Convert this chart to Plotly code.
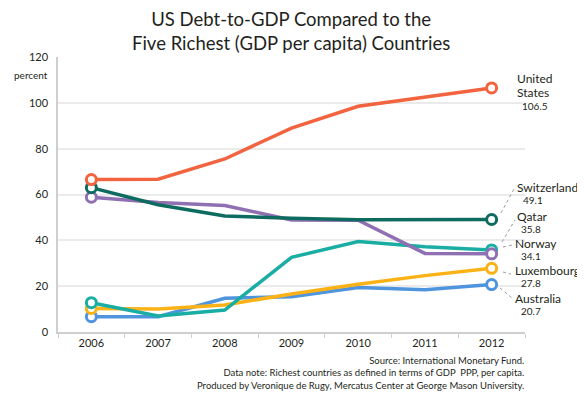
import plotly.graph_objects as go

years = ["2006", "2007", "2008", "2009", "2010", "2011", "2012"]
us = [66.5, 66.7, 75.5, 89.0, 98.5, 102.5, 106.5]
switzerland = [63.0, 55.5, 50.6, 49.6, 49.0, 49.1, 49.1]
norway = [58.8, 56.5, 55.2, 48.9, 48.8, 34.3, 34.1]
qatar = [12.8, 7.0, 9.6, 32.6, 39.5, 37.2, 35.8]
luxembourg = [10.3, 10.0, 11.8, 16.6, 20.8, 24.6, 27.8]
australia = [6.7, 6.7, 14.7, 15.4, 19.4, 18.4, 20.7]

series = [
    ("Australia", australia, "#4f95dd"),
    ("Luxembourg", luxembourg, "#fbb217"),
    ("Qatar", qatar, "#19ada4"),
    ("Norway", norway, "#8f70b3"),
    ("Switzerland", switzerland, "#0e6b5f"),
    ("United States", us, "#f2633f"),
]

FONT = "Lato, 'Open Sans', sans-serif"
TXT = "#231f20"

fig = go.Figure()
for name, vals, col in series:
    fig.add_trace(go.Scatter(x=years, y=vals, mode="lines", name=name,
                             line=dict(color=col, width=3.5), hoverinfo="skip"))
for name, vals, col in series:
    fig.add_trace(go.Scatter(x=[years[0], years[-1]], y=[vals[0], vals[-1]], mode="markers",
                             marker=dict(size=10, color="white", line=dict(color=col, width=3)),
                             hoverinfo="skip"))

# page has an 8px body margin; geometry below is in reference-page pixels
OFF = 8
L, R, T, B = 58, 525, 57, 332
W, H = R - L, B - T
FW, FH = 585 - OFF, 397 - OFF
def px(x):
    return (x - L) / W
def py(y):
    return (B - y) / H

annotations = []
def label(text, x, y, size=12):
    annotations.append(dict(text=text, x=px(x), y=py(y), xref="paper", yref="paper",
                            xanchor="left", yanchor="middle", showarrow=False,
                            font=dict(family=FONT, size=size, color=TXT)))

NS, VS = 12, 10
# right-side labels
label("United", 515, 78, NS)
label("States", 515, 92, NS)
label(f"{us[-1]}", 520, 105.5, VS)
label("Switzerland", 515, 187, NS)
label(f"{switzerland[-1]}", 521, 200.5, VS)
label("Qatar", 515, 216, NS)
label(f"{qatar[-1]}", 519, 228.5, VS)
label("Norway", 513, 243, NS)
label(f"{norway[-1]}", 519, 255.5, VS)
label("Luxembourg", 513, 270, NS)
label(f"{luxembourg[-1]}", 519, 282.5, VS)
label("Australia", 513, 298, NS)
label(f"{australia[-1]}", 519, 310.5, VS)

# title
annotations.append(dict(text="US Debt-to-GDP Compared to the<br>Five Richest (GDP per capita) Countries",
                        x=px(291), y=py(31), xref="paper", yref="paper",
                        xanchor="center", yanchor="middle", showarrow=False,
                        font=dict(family=FONT, size=18.5, color=TXT)))
# percent
annotations.append(dict(text="percent", x=px(50), y=py(75), xref="paper", yref="paper",
                        xanchor="right", yanchor="middle", showarrow=False,
                        font=dict(family=FONT, size=10, color=TXT)))
# footnote
annotations.append(dict(text="Source: International Monetary Fund.<br>"
                             "Data note: Richest countries as defined in terms of GDP  PPP, per capita.<br>"
                             "Produced by Veronique de Rugy, Mercatus Center at George Mason University.",
                        x=px(526), y=py(373), xref="paper", yref="paper",
                        xanchor="right", yanchor="middle", showarrow=False, align="right",
                        font=dict(family=FONT, size=9.5, color=TXT)))

# dotted leader lines
leaders = [
    (501, 213, 514, 189),
    (502, 242, 515, 220),
    (503, 247, 512, 245),
    (503, 272, 511, 274),
    (500, 288, 512, 298),
]
shapes = []
for x0, y0, x1, y1 in leaders:
    shapes.append(dict(type="line", xref="paper", yref="paper",
                       x0=px(x0), y0=py(y0), x1=px(x1), y1=py(y1),
                       line=dict(color="#9a9a9a", width=1, dash="dot")))

fig.update_layout(
    width=FW, height=FH,
    margin=dict(l=L - OFF, r=585 - R, t=T - OFF, b=397 - B, autoexpand=False),
    paper_bgcolor="white", plot_bgcolor="white",
    showlegend=False,
    font=dict(family=FONT, color=TXT),
    annotations=annotations,
    shapes=shapes,
    xaxis=dict(type="category", tickson="boundaries", showgrid=False,
               showline=True, linecolor="#cfcfcf", linewidth=1.5,
               ticks="outside", ticklen=4, tickcolor="#cfcfcf",
               tickfont=dict(family=FONT, size=11, color=TXT),
               range=[-0.5, 6.5], fixedrange=True),
    yaxis=dict(range=[0, 120], dtick=20, showgrid=True, gridcolor="#ebebeb", gridwidth=1.5,
               showline=True, linecolor="#cfcfcf", linewidth=1.5, zeroline=False,
               ticks="", tickfont=dict(family=FONT, size=11, color=TXT),
               ticklabelstandoff=6, fixedrange=True),
)

fig.write_html("out.html")
